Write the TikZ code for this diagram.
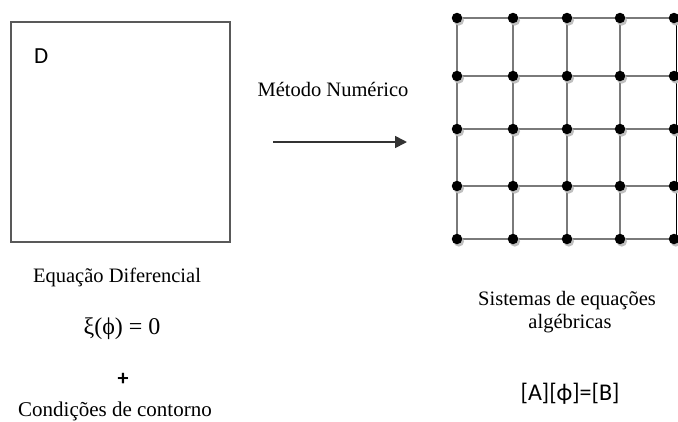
\documentclass[tikz,border=0pt]{standalone}
\usepackage{fontspec}
\setmainfont{Liberation Serif}
\newfontfamily\calib{Carlito}
\usetikzlibrary{arrows.meta,shadows,backgrounds}
\begin{document}
\begin{tikzpicture}[x=1pt,y=-1pt,
  lbl/.style={font=\fontsize{20.5}{24}\selectfont, inner sep=0pt, anchor=base},
  dot/.style={circle, fill=black, minimum size=10.5pt, inner sep=0pt,
    drop shadow={shadow xshift=1.8pt, shadow yshift=-2.4pt, fill=black!25, opacity=1}},
  meshline/.style={draw=black!52, line width=1.8pt},
  edgeline/.style={draw=black, line width=1.5pt},
  regionbox/.style={draw=black!65, line width=1.4pt, minimum width=219pt, minimum height=220pt, inner sep=0pt},
  flow/.style={-{Triangle[length=12pt,width=12pt]}, line width=1.6pt, draw=black!80}]
\useasboundingbox (0,0) rectangle (678,421);

% continuous domain
\node[regionbox] (dom) at (120.5,132) {};
\node[lbl, font=\calib\fontsize{23}{26}\selectfont, anchor=base west] (dlabel) at (34,63) {D};

% labels under the domain
\node[lbl] (eqdif) at (117,282) {Equação Diferencial};
\node[lbl, font=\fontsize{24}{28}\selectfont] (eq) at (122,334) {ξ(ϕ) = 0};
\node[lbl, font=\calib\bfseries\fontsize{22}{26}\selectfont] (plus) at (123,385) {+};
\node[lbl, font=\fontsize{21}{24}\selectfont] (cc) at (115,416) {Condições de contorno};

% discretisation arrow
\node[lbl] (met) at (333,96) {Método Numérico};
\coordinate (a0) at (273,142);
\coordinate (a1) at (407,142);
\draw[flow] (a0) -- (a1);

% mesh points
\foreach \x [count=\i] in {457,513,567,620,674}
  \foreach \y [count=\j] in {18,76,129,186,239}
    \node[dot] (g-\i-\j) at (\x,\y) {};

\begin{scope}[on background layer]
  \foreach \i in {1,...,4}{
    \foreach \j [evaluate=\j as \jn using int(\j+1)] in {1,...,4}
      \draw[meshline] (g-\i-\j.center) -- (g-\i-\jn.center);
  }
  \foreach \j in {1,...,5}{
    \foreach \i [evaluate=\i as \ii using int(\i+1)] in {1,...,4}
      \draw[meshline] (g-\i-\j.center) -- (g-\ii-\j.center);
  }
  \foreach \j [evaluate=\j as \jn using int(\j+1)] in {1,...,4}
    \draw[edgeline] ([xshift=2.5pt]g-5-\j.center) -- ([xshift=2.5pt]g-5-\jn.center);
\end{scope}

% algebraic system
\node[lbl] (sis1) at (567,305) {Sistemas de equações};
\node[lbl] (sis2) at (570,328) {algébricas};
\node[lbl, font=\calib\fontsize{24}{28}\selectfont] (mat) at (570,400) {[A][ϕ]=[B]};
\end{tikzpicture}
\end{document}
